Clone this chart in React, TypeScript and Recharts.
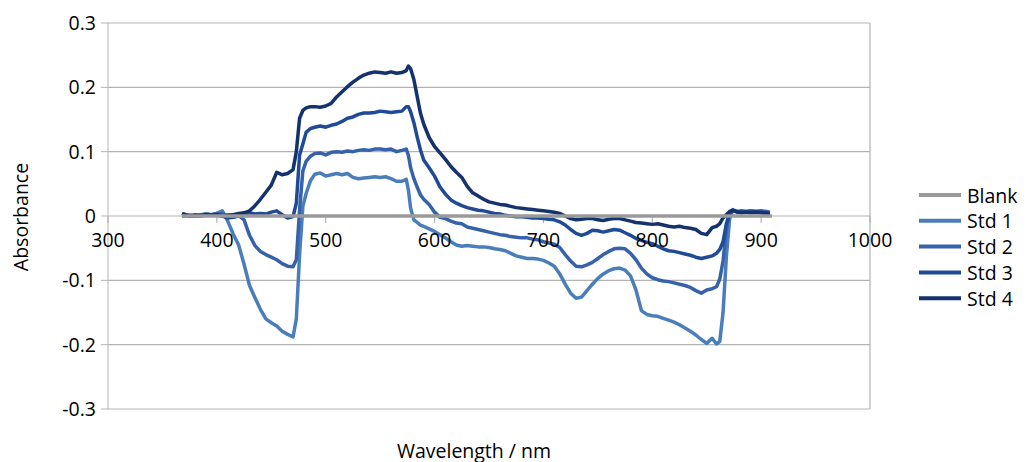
import { CartesianGrid, Line, LineChart, ReferenceDot, ReferenceLine, XAxis, YAxis } from "recharts"

// ── Data ──────────────────────────────────────────────────────────
const wavelengths = [
    368, 375, 380, 385, 390, 395, 400, 405, 410, 415,
    420, 425, 430, 435, 440, 445, 450, 455, 460, 465,
    470, 473, 476, 479, 482, 486, 490, 495, 500, 505,
    510, 515, 520, 525, 530, 535, 540, 545, 550, 555,
    560, 565, 570, 574, 576, 578, 581, 584, 587, 590,
    595, 600, 605, 610, 615, 620, 625, 630, 635, 640,
    645, 650, 655, 660, 665, 670, 675, 680, 685, 690,
    695, 700, 705, 710, 715, 720, 725, 730, 735, 740,
    745, 750, 755, 760, 765, 770, 775, 780, 785, 790,
    795, 800, 805, 810, 815, 820, 825, 830, 835, 840,
    845, 850, 855, 859, 862, 865, 868, 871, 874, 878,
    882, 886, 890, 895, 900, 905, 908,
]

const std1 = [
    0.000, 0.001, 0.000, 0.002, 0.003, 0.002, 0.004, 0.008, -0.008, -0.028,
    -0.045, -0.075, -0.108, -0.127, -0.145, -0.160, -0.166, -0.171, -0.179, -0.184,
    -0.188, -0.160, -0.060, 0.015, 0.035, 0.055, 0.065, 0.067, 0.062, 0.064,
    0.066, 0.064, 0.066, 0.060, 0.058, 0.059, 0.060, 0.061, 0.060, 0.061,
    0.058, 0.054, 0.054, 0.057, 0.040, 0.012, -0.006, -0.010, -0.014, -0.016,
    -0.020, -0.024, -0.029, -0.034, -0.040, -0.045, -0.047, -0.046, -0.047, -0.048,
    -0.048, -0.049, -0.051, -0.052, -0.054, -0.058, -0.062, -0.064, -0.066, -0.066,
    -0.067, -0.069, -0.073, -0.078, -0.090, -0.106, -0.120, -0.128, -0.126, -0.116,
    -0.106, -0.097, -0.090, -0.085, -0.082, -0.081, -0.084, -0.093, -0.115, -0.147,
    -0.153, -0.155, -0.156, -0.159, -0.162, -0.165, -0.169, -0.174, -0.179, -0.185,
    -0.192, -0.198, -0.190, -0.199, -0.195, -0.150, -0.065, -0.005, 0.010, 0.006,
    0.007, 0.006, 0.008, 0.007, 0.007, 0.006, 0.005,
]

const std2 = [
    0.001, 0.000, 0.002, 0.001, 0.003, 0.002, 0.004, 0.003, 0.001, 0.002,
    0.001, -0.006, -0.030, -0.046, -0.055, -0.060, -0.064, -0.068, -0.074, -0.078,
    -0.079, -0.068, 0.010, 0.070, 0.085, 0.093, 0.097, 0.098, 0.095, 0.099,
    0.100, 0.099, 0.101, 0.100, 0.102, 0.103, 0.102, 0.104, 0.104, 0.103,
    0.104, 0.100, 0.102, 0.104, 0.094, 0.075, 0.058, 0.045, 0.033, 0.026,
    0.018, 0.006, -0.002, -0.004, -0.008, -0.011, -0.012, -0.017, -0.019, -0.021,
    -0.023, -0.025, -0.027, -0.029, -0.030, -0.032, -0.033, -0.034, -0.034, -0.036,
    -0.037, -0.040, -0.042, -0.044, -0.049, -0.060, -0.070, -0.078, -0.079, -0.076,
    -0.072, -0.066, -0.060, -0.055, -0.051, -0.050, -0.051, -0.058, -0.068, -0.081,
    -0.090, -0.096, -0.099, -0.101, -0.102, -0.104, -0.106, -0.108, -0.111, -0.116,
    -0.120, -0.115, -0.113, -0.110, -0.098, -0.070, -0.020, 0.006, 0.008, 0.007,
    0.008, 0.007, 0.008, 0.007, 0.008, 0.007, 0.006,
]

const std3 = [
    0.000, 0.001, 0.000, 0.001, 0.002, 0.001, 0.002, 0.000, -0.003, -0.002,
    0.000, 0.003, 0.005, 0.003, 0.004, 0.003, 0.006, 0.008, 0.002, -0.003,
    -0.001, 0.020, 0.095, 0.112, 0.130, 0.136, 0.138, 0.140, 0.138, 0.141,
    0.143, 0.147, 0.152, 0.154, 0.158, 0.160, 0.160, 0.161, 0.163, 0.162,
    0.161, 0.162, 0.163, 0.170, 0.170, 0.162, 0.145, 0.123, 0.103, 0.087,
    0.075, 0.062, 0.045, 0.034, 0.025, 0.020, 0.016, 0.013, 0.011, 0.009,
    0.008, 0.006, 0.004, 0.003, 0.001, 0.000, -0.001, -0.001, -0.002, -0.003,
    -0.003, -0.004, -0.005, -0.006, -0.009, -0.014, -0.021, -0.027, -0.030, -0.027,
    -0.022, -0.023, -0.025, -0.023, -0.021, -0.022, -0.026, -0.030, -0.035, -0.038,
    -0.041, -0.043, -0.047, -0.051, -0.054, -0.055, -0.057, -0.059, -0.061, -0.064,
    -0.066, -0.064, -0.062, -0.058, -0.052, -0.040, -0.012, 0.004, 0.008, 0.007,
    0.006, 0.007, 0.006, 0.007, 0.006, 0.005, 0.004,
]

const std4 = [
    0.004, 0.000, 0.001, 0.000, 0.002, 0.001, 0.002, 0.000, 0.001, 0.002,
    0.004, 0.005, 0.008, 0.016, 0.026, 0.037, 0.048, 0.068, 0.064, 0.066,
    0.072, 0.100, 0.152, 0.164, 0.168, 0.170, 0.170, 0.169, 0.171, 0.175,
    0.185, 0.193, 0.201, 0.208, 0.214, 0.219, 0.222, 0.224, 0.223, 0.222,
    0.224, 0.222, 0.223, 0.226, 0.233, 0.229, 0.212, 0.186, 0.160, 0.143,
    0.122, 0.108, 0.098, 0.088, 0.077, 0.068, 0.060, 0.046, 0.036, 0.031,
    0.026, 0.022, 0.020, 0.018, 0.017, 0.015, 0.013, 0.012, 0.011, 0.010,
    0.009, 0.008, 0.007, 0.006, 0.004, 0.000, -0.004, -0.006, -0.005, -0.004,
    -0.004, -0.006, -0.007, -0.005, -0.004, -0.004, -0.006, -0.008, -0.010, -0.011,
    -0.012, -0.013, -0.012, -0.014, -0.016, -0.017, -0.016, -0.018, -0.019, -0.021,
    -0.027, -0.029, -0.018, -0.016, -0.012, -0.003, 0.002, 0.007, 0.009, 0.006,
    0.005, 0.006, 0.005, 0.006, 0.005, 0.004, 0.004,
]

// blank is flat across the whole scan
const blankRange = [368, 910]
const blankValues = [0, 0]

const seriesNames = ["Std 1", "Std 2", "Std 3", "Std 4"]
const seriesColors = ["#4a7ebb", "#3562aa", "#1f4a96", "#13326e"]
const blankColor = "#9a9a9a"

const xTicks = [300, 400, 500, 600, 700, 800, 900, 1000]
const yTicks = [-0.3, -0.2, -0.1, 0, 0.1, 0.2, 0.3]

const seriesValues = [std1, std2, std3, std4]
const rows = wavelengths.map((nm, i) => ({
    nm,
    s1: std1[i],
    s2: std2[i],
    s3: std3[i],
    s4: std4[i],
}))
const blankRows = blankRange.map((nm, i) => ({ nm, blank: blankValues[i] }))

const FONT = '"Open Sans", "Noto Sans", sans-serif'
const FS = 19.5
const GRID = "#b3b3b3"

export default function App() {
    const legendItems = [
        { name: "Blank", color: blankColor },
        ...seriesNames.map((name, i) => ({ name, color: seriesColors[i] })),
    ]

    return (
        <div style={{ position: "absolute", left: 0, top: 0, width: 1032, height: 462, fontFamily: FONT, background: "#fff" }}>
            <LineChart
                width={1032}
                height={462}
                data={rows}
                margin={{ top: 23, right: 162, bottom: 53, left: 48 }}
                style={{ fontFamily: FONT }}
            >
                <CartesianGrid vertical={false} stroke={GRID} strokeWidth={1.2} />
                <XAxis dataKey="nm" type="number" domain={[300, 1000]} ticks={xTicks} hide allowDataOverflow />
                <YAxis
                    type="number"
                    domain={[-0.3, 0.3]}
                    ticks={yTicks}
                    interval={0}
                    width={60}
                    stroke={GRID}
                    tickSize={7}
                    tickMargin={5}
                    tick={{ fill: "#000", fontSize: FS, fontFamily: FONT }}
                    tickFormatter={(v: number) => (v === 0 ? "0" : v.toFixed(1))}
                />
                <ReferenceLine x={1000} stroke={GRID} strokeWidth={1.2} />

                {/* x axis sits on the zero line */}
                {xTicks.map(t => (
                    <ReferenceLine
                        key={`tk${t}`}
                        segment={[{ x: t, y: 0 }, { x: t, y: -0.011 }]}
                        stroke={GRID}
                        strokeWidth={1.2}
                    />
                ))}
                {xTicks.map(t => (
                    <ReferenceDot
                        key={`lb${t}`}
                        x={t}
                        y={0}
                        r={0}
                        stroke="none"
                        fill="none"
                        label={(p: any) => (
                            <text
                                x={p.viewBox.x + (p.viewBox.width || 0) / 2}
                                y={p.viewBox.y + 31}
                                textAnchor="middle"
                                fontSize={FS}
                                fontFamily={FONT}
                                fill="#000"
                            >
                                {t}
                            </text>
                        )}
                    />
                ))}

                {seriesValues.map((_, i) => (
                    <Line
                        key={seriesNames[i]}
                        dataKey={`s${i + 1}`}
                        name={seriesNames[i]}
                        type="linear"
                        stroke={seriesColors[i]}
                        strokeWidth={3.5}
                        strokeLinejoin="round"
                        dot={false}
                        activeDot={false}
                        isAnimationActive={false}
                    />
                ))}
                <Line
                    data={blankRows}
                    dataKey="blank"
                    name="Blank"
                    type="linear"
                    stroke={blankColor}
                    strokeWidth={3.5}
                    dot={false}
                    activeDot={false}
                    isAnimationActive={false}
                />
            </LineChart>

            <svg width={1032} height={462} style={{ position: "absolute", left: 0, top: 0, pointerEvents: "none" }}>
                <text
                    x={20}
                    y={217}
                    textAnchor="middle"
                    dominantBaseline="central"
                    fontSize={FS}
                    fontFamily={FONT}
                    transform="rotate(-90 20 217)"
                >
                    Absorbance
                </text>
                <text x={474} y={450} textAnchor="middle" dominantBaseline="central" fontSize={FS} fontFamily={FONT}>
                    Wavelength / nm
                </text>
                {legendItems.map((item, i) => {
                    const cy = 195 + i * 25.8
                    return (
                        <g key={item.name}>
                            <line x1={919} x2={961} y1={cy} y2={cy} stroke={item.color} strokeWidth={4} />
                            <text x={967} y={cy} dominantBaseline="central" fontSize={FS} fontFamily={FONT}>
                                {item.name}
                            </text>
                        </g>
                    )
                })}
            </svg>
        </div>
    )
}
